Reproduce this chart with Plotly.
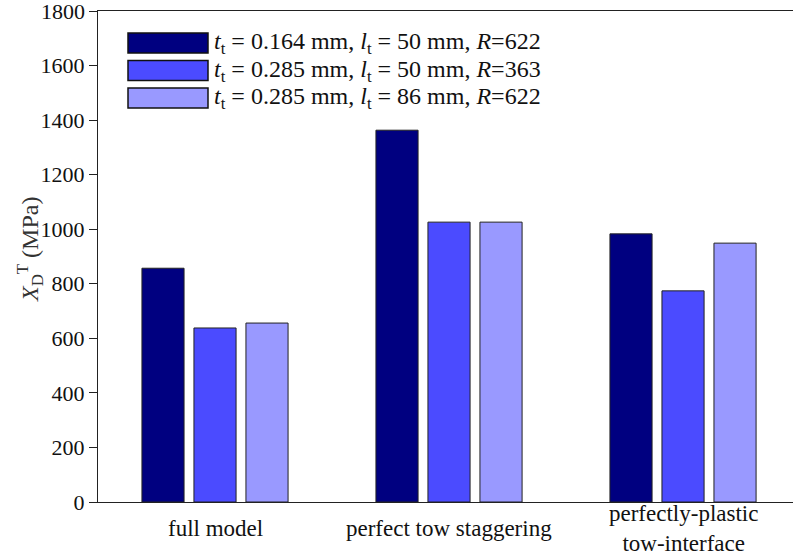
import plotly.graph_objects as go

# Data
categories = ["full model", "perfect tow staggering", "perfectly-plastic<br>tow-interface"]
series_names = [
    "<i>t</i><sub>t</sub> = 0.164 mm, <i>l</i><sub>t</sub> = 50 mm, <i>R</i>=622",
    "<i>t</i><sub>t</sub> = 0.285 mm, <i>l</i><sub>t</sub> = 50 mm, <i>R</i>=363",
    "<i>t</i><sub>t</sub> = 0.285 mm, <i>l</i><sub>t</sub> = 86 mm, <i>R</i>=622",
]
values_164_50 = [857, 1363, 983]
values_285_50 = [638, 1026, 774]
values_285_86 = [656, 1026, 949]
series_values = [values_164_50, values_285_50, values_285_86]
colors = ["#000080", "#4b4bff", "#9999ff"]
y_ticks = [0, 200, 400, 600, 800, 1000, 1200, 1400, 1600, 1800]

FONT = "Liberation Serif"
W, H = 793, 556
ML, MR, MT, MB = 98, 0, 11, 54
pos = [1, 2, 3]

fig = go.Figure()
for name, vals, col in zip(series_names, series_values, colors):
    fig.add_trace(go.Bar(
        x=pos, y=vals, name=name,
        marker=dict(color=col, line=dict(color="#222222", width=1)),
        showlegend=False,
    ))

# Legend drawn as wide patches with labels, in pixel-based paper coordinates
pw = W - ML - MR
ph = H - MT - MB
def px_x(x):
    return (x - ML) / pw
def px_y(y):
    return (H - MB - y) / ph

for i, (name, col) in enumerate(zip(series_names, colors)):
    top = 33 + i * 27.5
    fig.add_shape(type="rect", xref="paper", yref="paper",
                  x0=px_x(128), x1=px_x(208), y0=px_y(top), y1=px_y(top + 20),
                  fillcolor=col, line=dict(color="#111111", width=1.5))
    fig.add_annotation(xref="paper", yref="paper", x=px_x(212), y=px_y(top + 10),
                       text=name, showarrow=False, xanchor="left", yanchor="middle",
                       font=dict(family=FONT, size=24, color="#111111"))

# Category labels below the axis
for p, lab in zip(pos, categories):
    fig.add_annotation(xref="x", yref="paper", x=p, y=px_y(528),
                       text=lab, showarrow=False, xanchor="center", yanchor="middle",
                       font=dict(family=FONT, size=23, color="#111111"))

# Y-axis title
fig.add_annotation(xref="paper", yref="paper", x=px_x(30), y=px_y(250),
                   text="<i>X</i><sub>D</sub><sup>T</sup> (MPa)", textangle=-90,
                   showarrow=False, xanchor="center", yanchor="middle",
                   font=dict(family=FONT, size=24, color="#333333"))

# The top tick label sits at the very edge of the page, so it is placed as an annotation
tick_text = [str(v) for v in y_ticks]
top_label = tick_text[-1]
tick_text[-1] = ""
fig.add_annotation(xref="paper", yref="y", x=px_x(87), y=y_ticks[-1],
                   text=top_label, showarrow=False, xanchor="right", yanchor="middle",
                   font=dict(family=FONT, size=22, color="#111111"))

fig.update_layout(
    width=W, height=H,
    margin=dict(l=ML, r=MR, t=MT, b=MB, pad=0),
    paper_bgcolor="white", plot_bgcolor="white",
    barmode="group", bargap=0.3333, bargroupgap=0.19,
    font=dict(family=FONT, size=21, color="#111111"),
)
fig.update_xaxes(range=[0.5, 3.47], showticklabels=False, ticks="",
                 showline=True, linecolor="#222222", linewidth=1.3, mirror=True,
                 showgrid=False, zeroline=False)
fig.update_yaxes(range=[0, 1800], tickmode="array", tickvals=y_ticks, ticktext=tick_text,
                 ticks="outside", ticklen=8,
                 tickcolor="#222222", tickwidth=1.2,
                 showline=True, linecolor="#222222", linewidth=1.3,
                 showgrid=False, zeroline=False, automargin=False,
                 tickfont=dict(family=FONT, size=22, color="#111111"))

fig.write_html("out.html")
